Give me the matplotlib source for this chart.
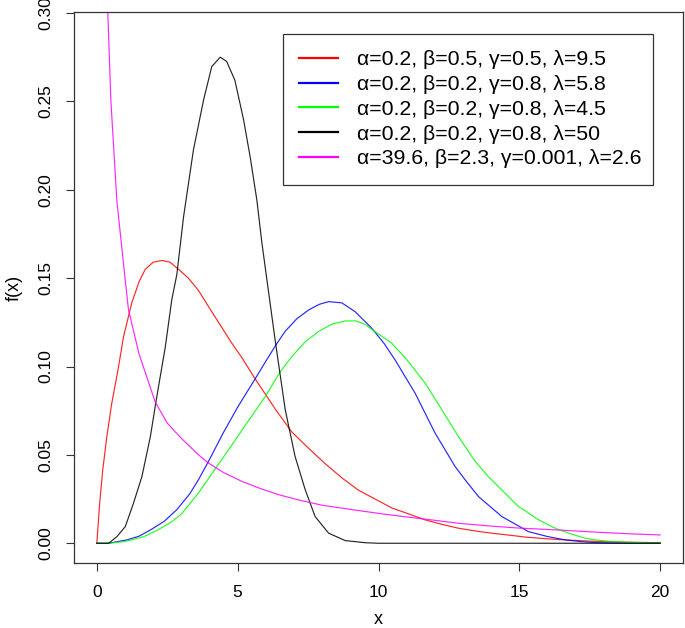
import matplotlib
matplotlib.use("Agg")
import matplotlib.pyplot as plt
from matplotlib.lines import Line2D

plt.rcParams['font.family'] = ['Liberation Sans', 'DejaVu Sans']

# ---- data ----
red_x = [0, 0.10, 0.21, 0.355, 0.53, 0.75, 0.95, 1.24, 1.50, 1.72, 2.0, 2.31, 2.6, 2.9, 3.25, 3.61,
         4.0, 4.44, 4.8, 5.15, 5.62, 6.0, 6.33, 6.92, 7.5, 8.11, 8.7, 9.29, 10.0, 10.47, 11.0,
         11.66, 12.3, 12.84, 13.5, 14.02, 14.85, 15.21, 16.0, 16.63, 17.5, 18.5, 20]
red_y = [0, 0.0226, 0.0415, 0.0603, 0.0792, 0.098, 0.117, 0.136, 0.148, 0.155, 0.159, 0.160,
         0.159, 0.155, 0.150, 0.143, 0.133, 0.122, 0.113, 0.105, 0.093, 0.084, 0.076, 0.063,
         0.054, 0.045, 0.037, 0.030, 0.024, 0.020, 0.017, 0.0132, 0.0105, 0.0085, 0.0068,
         0.0057, 0.0042, 0.0035, 0.0025, 0.0019, 0.0012, 0.0007, 0.0003]

blue_x = [0, 0.42, 1.07, 1.5, 1.90, 2.4, 2.84, 3.3, 3.61, 3.97, 4.5, 5.0, 5.62, 6.0, 6.35, 6.69,
          7.1, 7.52, 7.9, 8.23, 8.70, 9.17, 9.76, 10.2, 10.59, 11.30, 12.01, 12.72, 13.08, 13.55,
          14.02, 14.38, 14.97, 15.32, 16.0, 16.63, 17.2, 17.81, 18.5, 20]
blue_y = [0, 0, 0.0019, 0.0040, 0.0075, 0.0125, 0.0190, 0.0280, 0.0360, 0.0465, 0.0628, 0.0770,
          0.0930, 0.1030, 0.1120, 0.1200, 0.1270, 0.1320, 0.1352, 0.1367, 0.1360, 0.1310,
          0.1217, 0.1130, 0.1037, 0.0849, 0.0623, 0.0434, 0.0358, 0.0264, 0.0200, 0.0151,
          0.0098, 0.0066, 0.0038, 0.0019, 0.0009, 0.0003, 0.0001, 0]

green_x = [0, 0.42, 1.0, 1.66, 2.1, 2.6, 3.0, 3.61, 4.2, 4.79, 5.09, 5.5, 5.98, 6.51, 6.92, 7.4,
           7.87, 8.35, 8.82, 9.2, 9.53, 9.7, 10.47, 11.0, 11.66, 12.25, 12.84, 13.4, 13.90, 14.02,
           14.97, 15.21, 15.6, 16.15, 16.39, 16.8, 17.34, 17.57, 18.0, 18.76, 19.5, 20]
green_y = [0, 0, 0.0010, 0.0037, 0.0070, 0.0115, 0.0165, 0.0285, 0.0420, 0.0555, 0.0625, 0.0720,
           0.0830, 0.0970, 0.1056, 0.1140, 0.1198, 0.1240, 0.1258, 0.1258, 0.1238, 0.1217,
           0.1132, 0.1040, 0.0905, 0.0755, 0.0603, 0.0470, 0.0377, 0.0358, 0.0207, 0.0184,
           0.0140, 0.0094, 0.0078, 0.0055, 0.0028, 0.0022, 0.0014, 0.0006, 0.0002, 0.0001]

black_x = [0, 0.42, 0.71, 1.01, 1.30, 1.60, 1.90, 2.13, 2.43, 2.66, 2.84, 3.08, 3.43, 3.79, 4.08,
           4.38, 4.61, 4.90, 5.21, 5.45, 5.68, 5.86, 6.03, 6.33, 6.69, 7.04, 7.40, 7.75, 8.23,
           8.82, 9.53, 10.0, 20]
black_y = [0, 0, 0.0037, 0.0094, 0.0226, 0.0377, 0.0603, 0.083, 0.111, 0.1377, 0.152, 0.1848,
           0.2226, 0.2508, 0.2697, 0.2750, 0.2726, 0.2620, 0.2396, 0.2180, 0.1943, 0.1700,
           0.1500, 0.1150, 0.0754, 0.0490, 0.0302, 0.0151, 0.0057, 0.0015, 0.0003, 0, 0]

mag_x = [0.36, 0.39, 0.50, 0.71, 1.00, 1.125, 1.5, 2.07, 2.5, 2.96, 3.61, 3.97, 4.5, 5.15, 5.8,
         6.45, 7.16, 8.0, 9.29, 10.24, 11.2, 11.89, 12.84, 14.0, 14.97, 16.39, 17.81, 19.0, 20]
mag_y = [0.33, 0.300, 0.250, 0.194, 0.150, 0.132, 0.107, 0.080, 0.068, 0.060, 0.050, 0.0453,
         0.040, 0.035, 0.031, 0.0275, 0.0245, 0.0215, 0.0185, 0.0164, 0.0145, 0.0132, 0.0113,
         0.0097, 0.0086, 0.0075, 0.0062, 0.0053, 0.0047]

labels = ["α=0.2, β=0.5, γ=0.5, λ=9.5",
          "α=0.2, β=0.2, γ=0.8, λ=5.8",
          "α=0.2, β=0.2, γ=0.8, λ=4.5",
          "α=0.2, β=0.2, γ=0.8, λ=50",
          "α=39.6, β=2.3, γ=0.001, λ=2.6"]
colors = ["#FF0000", "#0000FF", "#00FF00", "#000000", "#FF00FF"]
xticks = [0, 5, 10, 15, 20]
yticks = [0.00, 0.05, 0.10, 0.15, 0.20, 0.25, 0.30]

W, H = 685, 628
fig = plt.figure(figsize=(W / 100, H / 100), dpi=100)
L, R, T, B = 74.3, 682.7, 12.3, 562.7
ax = fig.add_axes([L / W, 1 - B / H, (R - L) / W, (B - T) / H])

series = [(red_x, red_y), (blue_x, blue_y), (green_x, green_y), (black_x, black_y), (mag_x, mag_y)]
for (xs, ys), c, lab in zip(series, colors, labels):
    ax.plot(xs, ys, color=c, lw=0.85, label=lab, alpha=0.85)

ax.set_xlim(-0.8, 20.8)
ax.set_ylim(-0.011, 0.3004)
ax.set_xticks(xticks)
ax.set_xticklabels([str(v) for v in xticks])
ax.set_yticks(yticks)
ax.set_yticklabels([f"{v:.2f}" for v in yticks])
ax.tick_params(axis='both', direction='out', length=6, width=0.8, labelsize=12.5, color='#333333')
ax.tick_params(axis='x', pad=10)
ax.tick_params(axis='y', pad=9, labelrotation=90)
for lab in ax.get_yticklabels():
    lab.set_va('center')
for s in ax.spines.values():
    s.set_color('#333333')
    s.set_linewidth(0.9)

ax.set_xlabel("x", fontsize=13)
ax.set_ylabel("f(x)", fontsize=13)
ax.xaxis.set_label_coords(0.5, (B - 620) / (B - T))
ax.xaxis.label.set_va('center')
ax.yaxis.set_label_coords((14 - L) / (R - L), 0.5)
ax.yaxis.label.set_va('center')

leg_handles = [Line2D([], [], color=c, lw=1.6) for c in colors]
lx0, ly0, lx1, ly1 = 283.3, 34.3, 653.3, 185.0
leg = fig.legend(leg_handles, labels, loc='upper left',
                 bbox_to_anchor=(lx0 / W, 1 - ly1 / H, (lx1 - lx0) / W, (ly1 - ly0) / H),
                 mode='expand', fontsize=15.3, frameon=True, fancybox=False,
                 edgecolor='#333333', borderaxespad=0, borderpad=0.76,
                 handlelength=1.8, handletextpad=0.9, labelspacing=0.27)
leg.get_frame().set_linewidth(0.9)
leg.get_frame().set_facecolor('white')
leg.get_frame().set_alpha(1)

fig.savefig("out.png", dpi=100)
